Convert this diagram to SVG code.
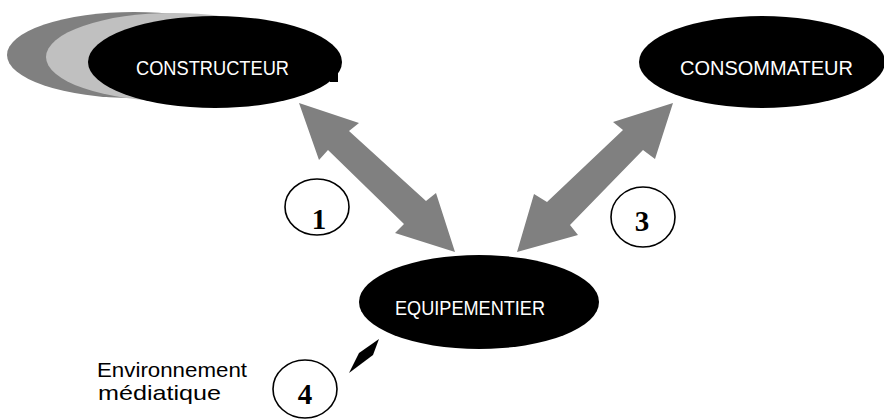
<svg xmlns="http://www.w3.org/2000/svg" width="884" height="420" viewBox="0 0 884 420">
<style>
.node{fill:#000}
.lbl{font-family:"Liberation Sans",Arial,sans-serif;font-size:20px;fill:#fff;text-anchor:middle}
.arr{fill:#808080}
.num{fill:#fff;stroke:#000;stroke-width:1.6}
.numt{font-family:"Liberation Serif","Times New Roman",serif;font-weight:bold;font-size:29px;fill:#000;text-anchor:middle}
.cap{font-family:"Liberation Sans",Arial,sans-serif;font-size:21px;fill:#000}
</style>
<rect width="884" height="420" fill="#fff"/>
<g id="constructeur">
<ellipse cx="134" cy="55" rx="127" ry="43" fill="#808080"/>
<ellipse cx="173" cy="57" rx="127" ry="44" fill="#c0c0c0"/>
<ellipse class="node" cx="215" cy="62" rx="127" ry="46"/>
<rect x="330" y="72" width="8" height="10" fill="#000"/>
<text class="lbl" x="212.5" y="75" textLength="153" lengthAdjust="spacingAndGlyphs">CONSTRUCTEUR</text>
</g>
<g id="consommateur">
<ellipse class="node" cx="762" cy="62" rx="123" ry="46"/>
<text class="lbl" x="766.5" y="75" textLength="173" lengthAdjust="spacingAndGlyphs">CONSOMMATEUR</text>
</g>
<g id="equipementier">
<ellipse class="node" cx="479" cy="302" rx="120" ry="47"/>
<text class="lbl" x="470" y="315" textLength="150" lengthAdjust="spacingAndGlyphs">EQUIPEMENTIER</text>
</g>
<g id="connectors">
<polygon class="arr" points="299,103 359,123 349,131 426,201 436,193 455,252 395,233 404,224 328,150 319,160"/>
<polygon class="arr" points="673,103 613,122 623,130 547,202 534,194 517,252 578,235 570,225 643,150 655,159"/>
<polygon fill="#000" points="379,339 373,355 349,373 359,353"/>
</g>
<g id="label-1">
<ellipse class="num" cx="317" cy="207" rx="32" ry="28"/>
<text class="numt" x="319" y="229">1</text>
</g>
<g id="label-3">
<ellipse class="num" cx="643" cy="217" rx="32" ry="30"/>
<text class="numt" x="642" y="231">3</text>
</g>
<g id="label-4">
<ellipse class="num" cx="305" cy="389" rx="32" ry="29"/>
<text class="numt" x="305" y="404">4</text>
</g>
<g id="environnement">
<text class="cap" x="97" y="377" textLength="150" lengthAdjust="spacingAndGlyphs">Environnement</text>
<text class="cap" x="98" y="400" textLength="123" lengthAdjust="spacingAndGlyphs">médiatique</text>
</g>
</svg>
